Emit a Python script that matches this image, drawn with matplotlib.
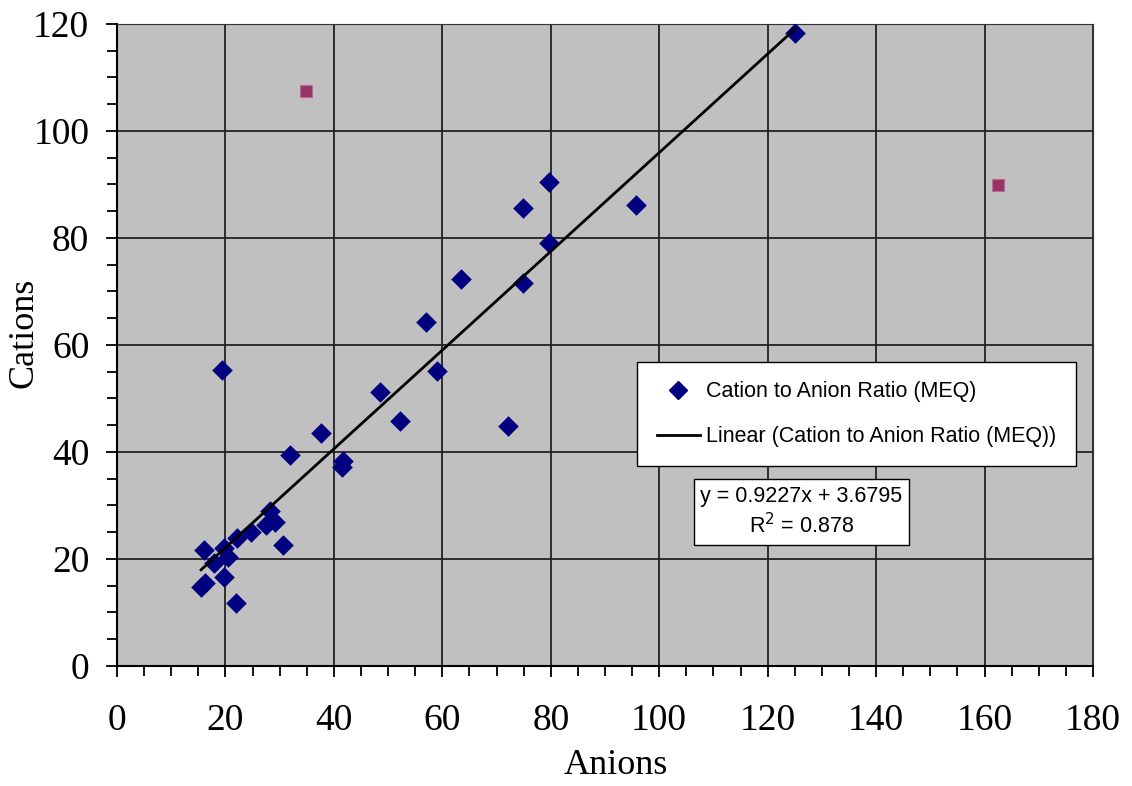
import matplotlib
matplotlib.use("Agg")
import matplotlib.pyplot as plt
import numpy as np
from matplotlib.lines import Line2D

# cation / anion balance (MEQ)
anions = [125.1, 79.6, 74.8, 95.8, 79.6, 74.8, 63.4, 56.9, 19.3, 59.1,
          48.5, 52.1, 72.2, 37.6, 41.6, 41.4, 31.9, 30.6, 28.2, 29.1,
          27.5, 24.7, 22.2, 19.8, 16.1, 20.4, 17.9, 19.8, 15.5, 16.2, 21.9]
cations = [118.3, 90.5, 85.6, 86.2, 79.1, 71.6, 72.3, 64.3, 55.3, 55.1,
           51.2, 45.8, 44.9, 43.6, 38.3, 37.2, 39.4, 22.6, 29.0, 26.9,
           26.4, 25.1, 23.9, 22.0, 21.7, 20.4, 19.2, 16.7, 14.8, 15.5, 11.8]
outlier_anions = [34.8, 162.5]
outlier_cations = [107.5, 89.9]

slope, intercept = 0.9227, 3.6795
r2 = 0.878

fig = plt.figure(figsize=(11.32, 7.86), dpi=100)
ax = fig.add_axes([0.1034, 0.1527, 0.8621, 0.8168])
ax.set_facecolor('#C0C0C0')

ax.scatter(anions, cations, marker='D', s=110, color='#000080', zorder=3,
           linewidths=0)
ax.scatter(outlier_anions, outlier_cations, marker='s', s=75, color='#993366',
           edgecolors='#B86A90', linewidths=0.8, zorder=3)

xs = np.array([min(anions), max(anions)])
ax.plot(xs, slope * xs + intercept, color='black', lw=2, zorder=4)

ax.set_xlim(0, 180)
ax.set_ylim(0, 120)
ax.set_xticks(np.arange(0, 181, 20))
ax.set_yticks(np.arange(0, 121, 20))
ax.set_xticks(np.arange(0, 181, 5), minor=True)
ax.set_yticks(np.arange(0, 121, 5), minor=True)
ax.grid(True, which='major', color='#222222', lw=1.3, zorder=1)
ax.set_axisbelow(True)

serif = 'Liberation Serif'
for lab in ax.get_xticklabels() + ax.get_yticklabels():
    lab.set_fontfamily(serif)
    lab.set_fontsize(27)
ax.tick_params(which='both', direction='out', color='black', width=1.3)
ax.tick_params(which='major', length=8)
ax.tick_params(which='minor', length=7)
ax.tick_params(axis='x', which='major', pad=19)
ax.tick_params(axis='y', which='major', pad=12)

for side in ['top', 'right']:
    ax.spines[side].set_color('#333333')
for side in ['left', 'bottom']:
    ax.spines[side].set_color('black')
    ax.spines[side].set_linewidth(1.5)

ax.set_xlabel('Anions', fontfamily=serif, fontsize=26)
ax.xaxis.set_label_coords(0.511, -0.13)
ax.set_ylabel('Cations', fontfamily=serif, fontsize=26)
ax.yaxis.set_label_coords(-0.078, 0.519)

handles = [Line2D([], [], marker='D', color='#000080', ls='none', markersize=9),
           Line2D([], [], color='black', lw=2)]
leg = ax.legend(handles, ['Cation to Anion Ratio (MEQ)',
                          'Linear (Cation to Anion Ratio (MEQ))'],
                loc='upper left', bbox_to_anchor=(0.533, 0.4735),
                borderaxespad=0,
                prop={'family': 'Liberation Sans', 'size': 15.5},
                frameon=True, fancybox=False, framealpha=1,
                edgecolor='black', handlelength=2, handletextpad=0.3,
                labelspacing=1.1, borderpad=0.9)
leg.get_frame().set_linewidth(1.0)

ax.text(0.7013, 0.2399, 'y = 0.9227x + 3.6795\nR$^2$ = 0.878',
        transform=ax.transAxes, ha='center', va='center',
        fontfamily='Liberation Sans', fontsize=15.5, linespacing=1.3,
        bbox=dict(boxstyle='square,pad=0.3', facecolor='white',
                  edgecolor='black', lw=1.0), zorder=5)

fig.savefig('out.png', dpi=100)
